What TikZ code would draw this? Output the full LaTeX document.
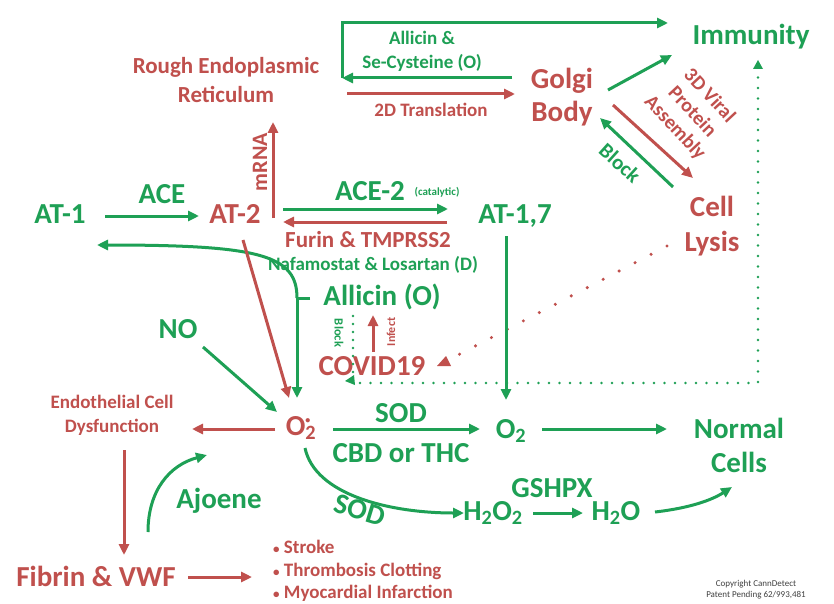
\documentclass[tikz,border=0pt]{standalone}
\usepackage{fontspec}
\setmainfont{Carlito}
\usetikzlibrary{arrows.meta,calc}
\definecolor{gr}{RGB}{30,160,85}
\definecolor{rd}{RGB}{192,80,77}
\newcommand\fsz[2]{\fontsize{#1}{#2}\selectfont\bfseries}
\newcommand\smbul{{\fontsize{13}{13}\selectfont•}}
\begin{document}
\begin{tikzpicture}[x=1pt,y=-1pt,
  every node/.style={inner sep=2pt},
  gt/.style={text=gr},
  rt/.style={text=rd},
  big/.style={font=\fsz{29}{31}},
  ga/.style={draw=gr,line width=3pt,-{Triangle[length=11pt,width=10pt]}},
  ra/.style={draw=rd,line width=3pt,-{Triangle[length=11pt,width=10pt]}},
  gl/.style={draw=gr,line width=3pt},
  gdot/.style={draw=gr,line width=2.8pt,line cap=round,dash pattern=on 0pt off 10.5pt},
  rdot/.style={draw=rd,line width=3.4pt,line cap=round,dash pattern=on 0pt off 18pt}
]
\fill[white] (0,0) rectangle (834,604);
\useasboundingbox (0,0) rectangle (834,604);

% ---- nodes
\node[gt,big,anchor=base] (imm) at (751,45) {Immunity};
\node[rt,font=\fsz{29}{33},align=center] (golgi) at (562,97) {Golgi\\Body};
\node[rt,font=\fsz{23}{29},align=center] (rer) at (226,80) {Rough Endoplasmic\\Reticulum};
\node[gt,font=\fsz{19}{24},align=center] (alsec) at (422,51) {Allicin \&\\Se-Cysteine (O)};
\node[rt,font=\fsz{19}{22},anchor=base] (tr2d) at (431,117) {2D Translation};
\node[rt,font=\fsz{20}{23.5},align=center,rotate=-47] (vir) at (692,112) {3D Viral\\Protein\\Assembly};
\node[gt,font=\fsz{21}{22},rotate=-42] (blk1) at (620,163) {Block};
\node[rt,font=\fsz{22}{24},rotate=90] (mrna) at (260,162) {mRNA};
\node[gt,big,anchor=base] (at1) at (60,223) {AT-1};
\node[gt,big,anchor=base] (ace) at (162,203) {ACE};
\node[rt,big,anchor=base] (at2) at (235,223) {AT-2};
\node[gt,big,anchor=base] (ace2) at (370,200) {ACE-2};
\node[gt,font=\fsz{11}{12},anchor=base] (cat) at (437,195) {(catalytic)};
\node[gt,big,anchor=base] (at17) at (515,223) {AT-1,7};
\node[rt,font=\fsz{23}{25},anchor=base] (furin) at (368,247) {Furin \& TMPRSS2};
\node[gt,font=\fsz{19}{22},anchor=base] (nafa) at (373,270) {Nafamostat \& Losartan (D)};
\node[rt,font=\fsz{29}{35},align=center] (cell) at (712,226) {Cell\\Lysis};
\node[gt,big,anchor=base] (allicin) at (382,305) {Allicin (O)};
\node[gt,font=\fsz{12.5}{13},rotate=-90] (blk2) at (339,333) {Block};
\node[rt,font=\fsz{12}{13},rotate=90] (inf) at (391,332) {Infect};
\node[rt,big,anchor=base] (covid) at (372,375) {COVID19};
\node[gt,big,anchor=base] (no) at (178,338) {NO};
\node[rt,big,anchor=base] (o2r) at (301,435) {O\rlap{\raisebox{12pt}{\fontsize{10}{10}\selectfont •}}\textsubscript{2}};
\node[rt,font=\fsz{19}{24},align=center] (endo) at (112,415) {Endothelial Cell\\Dysfunction};
\node[gt,big,anchor=base] (sod1) at (401,422) {SOD};
\node[gt,big,anchor=base] (cbd) at (401,462) {CBD or THC};
\node[gt,big,anchor=base] (o2g) at (511,438) {O\textsubscript{2}};
\node[gt,font=\fsz{29}{34},align=center] (normal) at (739,445) {Normal\\Cells};
\node[gt,big,anchor=base] (gshpx) at (552,497) {GSHPX};
\node[gt,big,rotate=-17] (sod2) at (360,510) {SOD};
\node[gt,big,anchor=base] (h2o2) at (493,520) {H\textsubscript{2}O\textsubscript{2}};
\node[gt,big,anchor=base] (h2o) at (616,520) {H\textsubscript{2}O};
\node[gt,big,anchor=base] (ajoene) at (219,508) {Ajoene};
\node[rt,big,anchor=base] (fibrin) at (96,586) {Fibrin \& VWF};
\node[rt,font=\fsz{19}{22.5},align=left,anchor=north west] (bul) at (271,538) {\smbul\ Stroke\\\smbul\ Thrombosis Clotting\\\smbul\ Myocardial Infarction};
\node[text=black!75,font={\fsz{9}{11}\mdseries},align=center] (copy) at (756,590) {Copyright CannDetect\\Patent Pending 62/993,481};

% ---- connectors
\draw[ga] ($(at1.base)+(45,-7)$) -- ($(at2.base)+(-36,-7)$);
\draw[ga] ($(at2.base)+(48,-14)$) -- ($(at17.base)+(-67,-14)$);
\draw[ra] ($(at17.base)+(-68,-1)$) -- ($(at2.base)+(48,-1)$);
\draw[ra] ($(at2.base)+(38,-5)$) -- ($(rer.center)+(47,42)$);
\draw[ra] ($(rer.center)+(121,14)$) -- ($(golgi.center)+(-47,-3)$);
\coordinate (loopc) at ($(rer.center)+(116,-2)$);
\draw[ga] ($(golgi.center)+(-50,-19)$) -- (loopc);
\draw[ga] (loopc) |- ($(imm.base)+(-83,-22)$);
\draw[ga] ($(golgi.center)+(46,-7)$) -- ($(imm.base)+(-79,10)$);
\draw[ra] ($(golgi.center)+(51,8)$) -- ($(cell.center)+(-19,-48)$);
\draw[ga] ($(cell.center)+(-39,-39)$) -- ($(golgi.center)+(38,21)$);
\draw[gdot] ($(imm.base)+(7,22)$) |- ($(covid.base)+(-20,8)$);
\draw[draw=none,fill=gr] ($(imm.base)+(7,15)$) -- ++(-5,9) -- ++(10,0) -- cycle;
\draw[draw=none,fill=gr] ($(covid.base)+(-27,6)$) -- ++(9,-6) -- ++(1,10) -- cycle;
\draw[rdot] ($(cell.center)+(-45,20)$) -- ($(covid.base)+(86,-20)$);
\draw[draw=none,fill=rd] ($(covid.base)+(65,-9)$) -- ++(14,0) -- ++(-5,-10) -- cycle;
\draw[ga] ($(at17.base)+(-9,13)$) -- ($(o2g.base)+(-5,-38)$);
\draw[gl] ($(allicin.base)+(-72,-7)$) -- ++(-13,0) coordinate (j);
\draw[ga] (j) -- ($(o2r.base)+(-4,-37)$);
\draw[ga] (j) .. controls +(0,-43) and ($(at1.base)+(200,22)$) .. ($(at1.base)+(37,22)$);
\draw[ra] ($(at2.base)+(8,17)$) -- ($(o2r.base)+(-12,-37)$);
\draw[ga] ($(no.base)+(25,9)$) -- ($(o2r.base)+(-24,-23)$);
\draw[ra] ($(o2r.base)+(-26,-6)$) -- ($(endo.center)+(80,14)$);
\draw[ga] ($(o2r.base)+(32,-6)$) -- ($(o2g.base)+(-31,-9)$);
\draw[ga] ($(o2g.base)+(31,-9)$) -- ($(normal.center)+(-72,-16)$);
\draw[ga] ($(o2r.base)+(4,13)$) .. controls +(10,47) and +(-74,0) .. ($(h2o2.base)+(-29,-7)$);
\draw[ga] ($(h2o2.base)+(40,-7)$) -- ($(h2o.base)+(-33,-7)$);
\draw[ga] ($(h2o.base)+(39,-8)$) .. controls +(35,-4) and +(-20,13) .. ($(normal.center)+(-7,42)$);
\draw[ra] ($(endo.center)+(12,35)$) -- ($(fibrin.base)+(28,-31)$);
\draw[ga] ($(fibrin.base)+(52,-54)$) .. controls +(0,-42) and +(-37,10) .. ($(ajoene.base)+(-12,-53)$);
\draw[ra] ($(fibrin.base)+(92,-9)$) -- ($(bul.north west)+(-19,39)$);
\draw[ra] ($(covid.base)+(1,-23)$) -- ($(allicin.base)+(-9,10)$);
\draw[gdot,dash pattern=on 0pt off 8pt] ($(allicin.base)+(-29,11)$) -- ($(covid.base)+(-19,2)$);
\end{tikzpicture}
\end{document}
